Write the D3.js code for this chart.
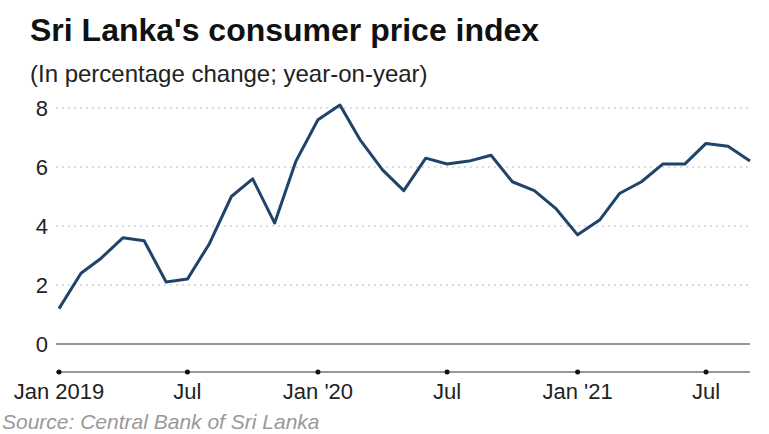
<!DOCTYPE html><html><head><meta charset="utf-8">
<script src="https://cdn.jsdelivr.net/npm/d3@7"></script>
<style>body{margin:0;background:#fff;font-family:Arial,"Liberation Sans",sans-serif}</style></head><body>
<svg id="c" width="769" height="434"></svg>
<script>
const months=["2019-01","2019-02","2019-03","2019-04","2019-05","2019-06","2019-07","2019-08","2019-09","2019-10","2019-11","2019-12","2020-01","2020-02","2020-03","2020-04","2020-05","2020-06","2020-07","2020-08","2020-09","2020-10","2020-11","2020-12","2021-01","2021-02","2021-03","2021-04","2021-05","2021-06","2021-07","2021-08","2021-09"];
const cpi=[1.2,2.4,2.9,3.6,3.5,2.1,2.2,3.4,5.0,5.6,4.1,6.2,7.6,8.1,6.9,5.9,5.2,6.3,6.1,6.2,6.4,5.5,5.2,4.6,3.7,4.2,5.1,5.5,6.1,6.1,6.8,6.7,6.2];
const yTicks=[0,2,4,6,8];
const xTickMonths=["2019-01","2019-07","2020-01","2020-07","2021-01","2021-07"];
const xTickLabels=["Jan 2019","Jul","Jan '20","Jul","Jan '21","Jul"];
const p=d3.timeParse("%Y-%m");
const svg=d3.select("#c");
const x=d3.scaleTime().domain([p("2019-01"),p("2021-09")]).range([59,750]);
const y=d3.scaleLinear().domain([0,8]).range([344,108]);
svg.append("text").attr("x",30).attr("y",41).attr("font-size",32).attr("font-weight","bold").attr("fill","#111").text("Sri Lanka's consumer price index");
svg.append("text").attr("x",30).attr("y",82).attr("font-size",24).attr("fill","#222").text("(In percentage change; year-on-year)");
yTicks.forEach(t=>{
 svg.append("line").attr("x1",56).attr("x2",750).attr("y1",y(t)).attr("y2",y(t))
  .attr("stroke",t===0?"#333":"#bbb").attr("stroke-width",1.2).attr("stroke-dasharray",t===0?null:"2,4");
 svg.append("text").attr("x",48).attr("y",y(t)+8).attr("text-anchor","end").attr("font-size",22).attr("fill","#222").text(t);
});
svg.append("line").attr("x1",56).attr("x2",750).attr("y1",372).attr("y2",372).attr("stroke","#333").attr("stroke-width",1.2);
xTickMonths.forEach((m,i)=>{
 svg.append("circle").attr("cx",x(p(m))).attr("cy",372).attr("r",2.5).attr("fill","#111");
 svg.append("text").attr("x",x(p(m))).attr("y",399).attr("text-anchor","middle").attr("font-size",22).attr("fill","#222").text(xTickLabels[i]);
});
svg.append("path").datum(months.map((m,i)=>[p(m),cpi[i]]))
 .attr("d",d3.line().x(d=>x(d[0])).y(d=>y(d[1])))
 .attr("fill","none").attr("stroke","#1f446b").attr("stroke-width",3).attr("stroke-linejoin","round");
svg.append("text").attr("x",2).attr("y",429).attr("font-size",21).attr("font-style","italic").attr("fill","#999").text("Source: Central Bank of Sri Lanka");
</script></body></html>
